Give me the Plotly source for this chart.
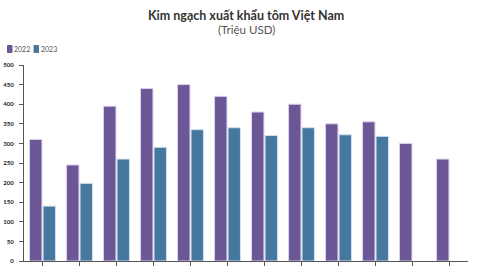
import plotly.graph_objects as go

months = ["Tháng 1", "Tháng 2", "Tháng 3", "Tháng 4", "Tháng 5", "Tháng 6",
          "Tháng 7", "Tháng 8", "Tháng 9", "Tháng 10", "Tháng 11", "Tháng 12"]
v2022 = [310, 245, 395, 440, 450, 420, 380, 400, 350, 355, 300, 260]
v2023 = [140, 198, 260, 290, 335, 340, 320, 340, 322, 318, None, None]
series_names = ["2022", "2023"]
colors = ["#6b5796", "#46789f"]

L, R, T, B, W, H = 24, 12, 65, 9, 480, 270
PW, PH = W - L - R, H - T - B


def px(x):
    return (x - L) / PW


def py(y):
    return (H - B - y) / PH


fig = go.Figure()
fig.add_trace(go.Bar(x=months, y=v2022, name=series_names[0], showlegend=False,
                     marker=dict(color=colors[0], line=dict(color="#d9d2ea", width=1))))
fig.add_trace(go.Bar(x=months, y=v2023, name=series_names[1], showlegend=False,
                     marker=dict(color=colors[1], line=dict(color="#d2dfec", width=1))))

annotations = [
    dict(text="<b>Kim ngạch xuất khẩu tôm Việt Nam</b>", x=0.5, xref="paper",
         y=py(15), yref="paper", showarrow=False, xanchor="center", yanchor="middle",
         font=dict(size=12.5, color="#333")),
    dict(text="(Triệu USD)", x=0.5, xref="paper", y=py(29.5), yref="paper",
         showarrow=False, xanchor="center", yanchor="middle",
         font=dict(size=11.5, color="#555")),
]
shapes = []
legend_x = [7.5, 34]
for i, (name, c) in enumerate(zip(series_names, colors)):
    x0 = legend_x[i]
    shapes.append(dict(type="rect", xref="paper", yref="paper",
                       x0=px(x0), x1=px(x0 + 4.5), y0=py(52.5), y1=py(45.5),
                       fillcolor=c, line=dict(color=c, width=1)))
    annotations.append(dict(text=name, x=px(x0 + 6.5), xref="paper", y=py(49),
                            yref="paper", showarrow=False, xanchor="left",
                            yanchor="middle", borderpad=0, borderwidth=0,
                            font=dict(size=7, color="#555")))

fig.update_layout(
    width=W, height=H,
    margin=dict(l=L, r=R, t=T, b=B),
    paper_bgcolor="white", plot_bgcolor="white",
    font=dict(family="Lato, sans-serif", color="#333"),
    barmode="group", bargap=0.27, bargroupgap=0.08,
    showlegend=False,
    annotations=annotations, shapes=shapes,
)

fig.update_xaxes(range=[-0.5, 11.5], showline=True, linecolor="#555", linewidth=1,
                 ticks="outside", ticklen=4, tickcolor="#555", tickangle=-45,
                 tickfont=dict(size=6.5, color="#333"), showgrid=False, automargin=False)
fig.update_yaxes(range=[0, 500], dtick=50, showline=True, linecolor="#555", linewidth=1,
                 ticks="outside", ticklen=4, tickcolor="#555", ticklabelstandoff=4,
                 tickfont=dict(size=6, color="#222", weight="bold"), showgrid=False,
                 zeroline=False, automargin=False)

fig.write_html("out.html")
